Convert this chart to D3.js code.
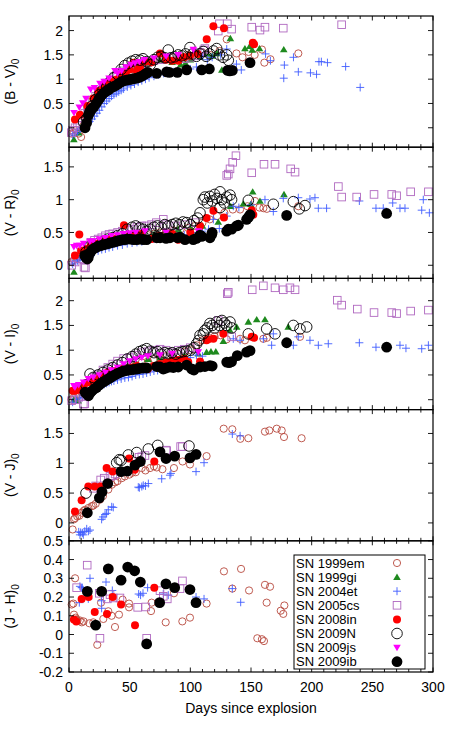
<!DOCTYPE html>
<html><head><meta charset="utf-8">
<script src="https://cdn.jsdelivr.net/npm/d3@7"></script>
<style>body{margin:0;background:#fff}svg{display:block}text{font-family:"Liberation Sans",Arial,sans-serif}</style>
</head><body><svg id="c" width="458" height="732"></svg>
<script>
// ---------- data (day since explosion, colour index) ----------
const xTicks = [0,50,100,150,200,250,300];
const seriesNames = ["SN 1999em","SN 1999gi","SN 2004et","SN 2005cs","SN 2008in","SN 2009N","SN 2009js","SN 2009ib"];

// (B - V)0
const em_BV = [[2,-0.12],[4,-0.1],[6,-0.05],[8,-0.12],[10,-0.19],[12,0.05],[14,0.15],[16,0.3],[18,0.42],[20,0.52],[23,0.62],[26,0.72],[29,0.8],[32,0.87],[35,0.93],[38,0.98],[42,1.05],[46,1.1],[50,1.15],[54,1.2],[58,1.25],[62,1.3],[66,1.33],[70,1.37],[75,1.4],[80,1.42],[86,1.45],[92,1.47],[98,1.5],[104,1.52],[110,1.55],[116,1.5],[124,1.58],[130,1.82],[138,1.53],[143,1.45],[148,1.56],[153,1.5],[159,1.61],[161,1.34],[166,1.41],[189,1.53]];
const gi_BV = [[4,-0.24],[8,-0.1],[12,0.1],[20,0.45],[28,0.75],[35,0.9],[45,1.1],[55,1.25],[65,1.32],[75,1.4],[85,1.35],[92,1.3],[96,1.33],[100,1.4],[108,1.45],[114,1.52],[118,1.48],[122,1.53],[126,1.19],[133,1.84],[145,1.63],[149,1.68],[151,1.6],[157,1.63],[177,1.61]];
const et_BV = [[3,-0.15],[5,-0.12],[7,-0.08],[9,-0.03],[11,0.0],[13,0.03],[15,0.08],[17,0.13],[19,0.18],[21,0.24],[23,0.3],[25,0.36],[27,0.43],[29,0.5],[31,0.55],[33,0.6],[35,0.65],[37,0.68],[39,0.71],[41,0.74],[43,0.77],[45,0.8],[48,0.84],[51,0.87],[54,0.9],[57,0.94],[60,0.97],[63,1.0],[66,1.03],[70,1.06],[74,1.09],[78,1.12],[82,1.13],[86,1.15],[90,1.17],[95,1.19],[100,1.21],[105,1.25],[110,1.48],[114,1.4],[118,1.45],[125,1.5],[130,1.62],[138,1.31],[142,1.19],[162,1.52],[166,1.38],[177,1.02],[177.5,1.29],[185,1.45],[189,1.15],[199,1.13],[204,1.1],[206,1.36],[208,1.36],[213,1.34],[228,1.26],[240,0.83]];
const cs_BV = [[2,-0.1],[3,-0.05],[5,0.0],[7,0.05],[9,0.1],[11,0.2],[13,0.3],[15,0.42],[17,0.52],[19,0.57],[22,0.65],[25,0.75],[28,0.85],[31,0.92],[34,0.98],[37,1.05],[40,1.1],[44,1.17],[48,1.22],[52,1.27],[56,1.3],[60,1.32],[65,1.35],[70,1.38],[75,1.4],[80,1.43],[85,1.45],[90,1.43],[95,1.42],[100,1.45],[105,1.48],[108,1.55],[111,1.6],[112,1.63],[123,1.99],[124,2.14],[130.5,2.14],[134,2.03],[150.6,2.07],[157.4,2.01],[161.5,2.07],[176.6,2.05],[224.7,2.12]];
const in_BV = [[4.9,0.17],[9,0.27],[15.1,0.45],[20,0.6],[24,0.75],[28.3,0.86],[31,0.9],[34,0.93],[38,0.98],[40,1.0],[44,1.1],[47,1.15],[50,1.2],[53,1.34],[56,1.17],[57,1.22],[58.5,1.24],[62.6,1.36],[68,1.35],[75,1.53],[80,1.4],[85,1.38],[90,1.38],[95,1.45],[99.7,1.48],[106,1.52],[113.5,1.82],[119,2.09],[127.7,2.05],[151.5,1.75],[152.5,1.72]];
const N_BV = [[12,0.12],[14.6,0.19],[17,0.32],[19,0.45],[22,0.58],[25,0.68],[28,0.78],[31,0.86],[34,0.95],[37,1.03],[40,1.1],[43,1.2],[46,1.28],[48.9,1.33],[52,1.37],[55,1.4],[58.5,1.39],[61,1.42],[64,1.36],[67,1.3],[70,1.4],[73,1.45],[76,1.47],[79,1.44],[81.8,1.6],[84,1.44],[87,1.46],[90,1.5],[93,1.48],[96,1.52],[99.7,1.65],[102,1.52],[105,1.47],[108,1.52],[110.7,1.57],[113,1.47],[116,1.52],[119,1.58],[121.7,1.63],[124,1.5],[127,1.45],[130,1.5],[131.3,1.39]];
const js_BV = [[4.1,0.31],[8.5,0.42],[11.3,0.51],[14,0.6],[17.9,0.79],[21,0.82],[25.5,0.91],[29,0.95],[33,1.02],[37.9,1.17],[40,1.12],[43.4,1.17],[47,1.25],[51,1.3],[54.4,1.33],[58,1.36],[62,1.4],[70,1.43],[80,1.47],[90,1.5],[102.5,1.61]];
const ib_BV = [[13.2,0.0],[14.5,0.1],[16,0.26],[17.5,0.35],[19,0.4],[20.5,0.43],[22.3,0.5],[24.2,0.57],[25.5,0.62],[26.9,0.67],[28.5,0.71],[30,0.74],[31.5,0.77],[33,0.79],[35.2,0.83],[37,0.85],[39.3,0.88],[41.5,0.92],[43.4,0.95],[45.5,0.97],[47.5,0.98],[49.5,0.99],[51.6,1.0],[53.5,1.01],[55.8,1.02],[58,1.04],[59.9,1.06],[62,1.09],[63.5,1.12],[65,1.14],[72.3,1.12],[80.5,1.15],[82.7,1.14],[89.3,1.14],[97,1.19],[109.4,1.19],[115.7,1.21],[130.8,1.18],[132.5,1.17],[134.6,1.18],[149.2,1.34]];

// (V - R)0
const em_VR = [[2,0.05],[4,0.08],[6,0.1],[8,0.13],[10,0.15],[13,0.18],[16,0.2],[20,0.24],[25,0.28],[30,0.31],[35,0.34],[40,0.36],[45,0.38],[50,0.4],[55,0.42],[60,0.44],[65,0.46],[70,0.48],[75,0.5],[80,0.51],[86,0.53],[92,0.55],[98,0.57],[104,0.6],[110,0.65],[116,0.7],[122,0.75],[128,0.8],[135,0.85],[141,0.85],[147,0.9],[153.3,0.98],[157,0.88],[160.2,0.87],[163,0.86],[189,0.9]];
const gi_VR = [[4.1,-0.1],[10,0.15],[20,0.25],[30,0.3],[40,0.35],[50,0.4],[60,0.43],[70,0.47],[80,0.5],[90,0.55],[100,0.58],[110,0.6],[123,0.66],[133.3,0.9],[143.7,0.94],[149.7,0.93],[151.4,1.12],[157.4,0.98],[177.2,1.08]];
const et_VR = [[3,0.02],[5,0.05],[7,0.07],[9,0.09],[11,0.12],[13,0.14],[15,0.15],[17,0.17],[19,0.18],[21,0.2],[24,0.22],[27,0.24],[30,0.25],[33,0.27],[36,0.28],[40,0.3],[44,0.31],[48,0.33],[52,0.34],[56,0.35],[60,0.36],[65,0.38],[70,0.4],[75,0.41],[80,0.42],[85,0.44],[90,0.45],[95,0.46],[100,0.47],[105,0.5],[110,0.52],[115,0.55],[119,0.7],[123.9,0.56],[130,0.75],[135.4,0.9],[140,0.88],[150,0.92],[161.5,1.0],[168.4,0.82],[176.6,1.02],[189,1.03],[198.6,1.01],[202.7,1.03],[205.5,0.87],[212.3,0.87],[239.3,0.98],[253,0.87],[259,0.87],[266.8,0.95],[272.8,0.87],[276.9,0.87],[290.7,0.84],[292,1.0],[297,0.8]];
const cs_VR = [[2.2,0.0],[5,0.05],[8,0.1],[10,0.2],[12.4,-0.03],[13.5,-0.04],[15,0.3],[18,0.35],[21,0.38],[24,0.4],[27,0.42],[30,0.45],[33,0.47],[36,0.48],[40,0.5],[44,0.52],[48,0.53],[52,0.55],[56,0.58],[60,0.6],[64,0.6],[68,0.62],[72,0.65],[77.7,0.7],[80,0.62],[88,0.6],[96,0.62],[104,0.65],[130,1.37],[131.3,1.39],[132.7,1.47],[134.9,1.57],[137.6,1.67],[150.6,1.41],[160.7,1.54],[169.8,1.54],[182.7,1.47],[186.3,1.42],[222,1.2],[224.7,1.04],[237.1,1.04],[251.4,1.08],[266,1.08],[270,1.06],[281.6,1.12],[296.2,1.12]];
const in_VR = [[4.9,0.15],[8.5,0.47],[10,0.22],[14,0.25],[18,0.3],[22,0.33],[26,0.35],[30,0.37],[35,0.4],[40,0.42],[45.3,0.61],[50,0.45],[55,0.47],[60,0.48],[68.1,0.4],[75,0.45],[85,0.48],[90,0.39],[100,0.5],[108,0.6],[113.4,0.72],[119,0.83],[127.7,0.73],[150.6,0.84],[151.9,0.77]];
const N_VR = [[14,0.2],[17,0.28],[20,0.3],[24,0.33],[28,0.36],[32,0.4],[36,0.42],[40,0.45],[44,0.48],[48,0.55],[52,0.58],[55,0.6],[58,0.57],[61,0.55],[64,0.52],[67,0.55],[70,0.58],[73,0.6],[76,0.58],[79,0.62],[82,0.6],[85,0.62],[88,0.64],[91,0.62],[94,0.66],[97,0.65],[100,0.62],[103,0.68],[106,0.72],[108,0.8],[110.7,1.0],[112,1.04],[114,0.95],[116,1.05],[118,0.98],[120,1.08],[122,1.02],[124.5,1.12],[126,1.0],[124.5,0.88],[128,0.95],[130,1.04],[132.7,1.07],[134,1.0],[147.8,0.99],[168.4,0.93],[184.9,0.97],[189.8,0.86],[194.5,0.91]];
const js_VR = [[4,0.28],[6.3,0.3],[9,0.3],[12,0.33],[17.3,0.36],[20,0.37],[25,0.4],[30,0.42],[35,0.45],[40,0.46],[45,0.48],[50,0.49],[55,0.5],[62.6,0.52],[80,0.5],[106.6,0.52]];
const ib_VR = [[13,0.15],[14,0.12],[15.1,0.095],[15.9,0.12],[17,0.18],[18,0.21],[20,0.25],[22,0.27],[24,0.29],[26,0.3],[28,0.31],[30,0.32],[32,0.33],[33.8,0.34],[36,0.35],[38,0.36],[40,0.37],[42,0.38],[44,0.39],[46,0.39],[48,0.4],[50.3,0.4],[53,0.39],[55.8,0.39],[58,0.4],[61,0.39],[64,0.39],[72.3,0.42],[75,0.42],[80,0.41],[83.2,0.42],[89.3,0.42],[91.5,0.43],[95.6,0.39],[102.4,0.39],[105,0.41],[108,0.46],[109.4,0.44],[116.2,0.42],[117.6,0.47],[118,0.5],[130,0.52],[131.3,0.55],[134.1,0.55],[138.2,0.6],[139.6,0.61],[146.4,0.7],[147.8,0.73],[149.2,0.77],[179.4,0.76],[261.8,0.79]];

// (V - I)0
const em_VI = [[2,0.0],[4,0.05],[6,0.08],[8,0.1],[10,0.15],[13,0.2],[16,0.25],[20,0.3],[24,0.35],[28,0.4],[32,0.45],[36,0.5],[40,0.55],[45,0.6],[50,0.65],[55,0.7],[60,0.75],[65,0.78],[70,0.82],[75,0.85],[80,0.88],[85,0.9],[90,0.93],[95,0.97],[100,1.0],[105,1.1],[110,1.2],[115,1.25],[120,1.28],[125,1.3],[130,1.22],[141,1.23],[145,1.2],[160.2,1.23],[163,1.25],[190.4,1.27]];
const gi_VI = [[4,0.0],[7.7,-0.02],[15,0.2],[25,0.4],[35,0.55],[45,0.65],[55,0.75],[65,0.82],[75,0.85],[85,0.88],[95,0.9],[106.6,0.93],[113.4,0.96],[117,0.97],[121,0.97],[127.2,1.18],[132.7,1.4],[138.2,1.47],[147.8,1.57],[154.7,1.62],[161.5,1.62],[180.7,1.47]];
const et_VI = [[3,-0.05],[6,0.0],[9,0.03],[11,0.05],[13,0.08],[15,0.12],[17,0.15],[19,0.18],[21,0.2],[23,0.24],[25,0.27],[27,0.29],[29,0.31],[31,0.33],[33,0.35],[35,0.37],[37,0.38],[40,0.4],[43,0.42],[46,0.44],[49,0.45],[52,0.47],[55,0.5],[58,0.51],[61,0.52],[64,0.54],[67,0.56],[70,0.58],[73,0.59],[76,0.6],[80,0.65],[85,0.72],[90,0.8],[95,0.82],[100,0.85],[105,0.9],[110,0.88],[135.4,1.23],[141,1.2],[160.2,1.23],[167,1.1],[168.4,1.33],[184.9,1.1],[189,1.27],[198.6,1.2],[205.5,1.1],[213.7,1.13],[239.3,1.15],[253,1.06],[272.8,1.1],[277.7,1.04],[290.7,1.03],[296.2,1.1]];
const cs_VI = [[2.2,-0.02],[5,0.0],[8,0.05],[11.8,-0.09],[13,-0.08],[12,0.2],[15,0.3],[18,0.38],[21,0.45],[24,0.5],[28,0.6],[32,0.65],[36,0.72],[40,0.78],[45,0.83],[50,0.85],[55,0.9],[60,0.95],[65,0.97],[70,1.0],[75,1.02],[80,1.0],[85,0.95],[90,1.0],[95,1.02],[100,1.05],[123,1.6],[130.5,2.14],[131.3,2.17],[134.1,1.27],[151,2.22],[160.2,2.3],[169.8,2.26],[176.6,2.22],[182.1,2.26],[186.3,2.22],[221.1,2.01],[224.7,1.91],[237.6,1.83],[251.4,1.76],[266,1.76],[270,1.74],[281.6,1.79],[296.2,1.81]];
const in_VI = [[3,0.18],[4.9,0.18],[8,0.2],[12,0.28],[16,0.35],[20,0.4],[24,0.45],[28,0.5],[32,0.55],[36,0.58],[40,0.6],[44,0.62],[48,0.63],[52,0.65],[56,0.68],[60,0.65],[65,0.62],[70,0.68],[75,0.72],[80,0.75],[85,0.78],[90,0.8],[95,0.82],[98.3,0.76],[108,0.77],[113.4,1.2],[114.8,1.22],[119,1.23],[127.2,1.33],[150.6,1.27],[152.5,1.25]];
const N_VI = [[14,0.3],[17.3,0.52],[20,0.45],[24,0.5],[28,0.55],[32,0.6],[36,0.65],[40,0.7],[44,0.75],[48,0.82],[52,0.87],[55,0.92],[58,0.97],[61,1.0],[64,1.03],[67,0.98],[70,0.95],[73,0.97],[76,0.92],[79,0.95],[82,0.93],[85,0.95],[88,0.92],[91,0.95],[94,0.97],[97,0.98],[100,1.0],[103,1.05],[105.2,1.13],[107,1.2],[108,1.3],[110.7,1.33],[112,1.4],[114,1.45],[116.2,1.54],[118,1.5],[120,1.45],[121.7,1.57],[124,1.5],[126,1.6],[128,1.55],[130,1.5],[132.7,1.57],[134,1.45],[147.8,1.33],[162.9,1.43],[169.8,1.33],[184.9,1.5],[190.4,1.43],[195.9,1.47]];
const js_VI = [[4,0.28],[4.9,0.25],[8,0.3],[12,0.35],[16,0.42],[20,0.45],[25,0.5],[30,0.55],[35,0.6],[40,0.65],[45,0.72],[50,0.78],[55,0.82],[60,0.85],[65,0.88],[75,0.9],[85,0.93],[106.6,0.96]];
const ib_VI = [[13.2,0.15],[14.5,0.12],[16,0.08],[17.5,0.14],[19,0.18],[21,0.22],[22.8,0.25],[25,0.3],[27,0.34],[29,0.37],[31,0.4],[33,0.43],[35,0.46],[37,0.49],[39.3,0.52],[41,0.54],[43,0.56],[45,0.58],[47.5,0.59],[50,0.6],[53,0.61],[55.8,0.62],[58,0.63],[61,0.64],[64,0.64],[72.3,0.67],[75,0.66],[77.7,0.62],[80,0.64],[83.2,0.66],[86,0.65],[90,0.66],[97,0.7],[101.1,0.62],[103,0.6],[108,0.66],[112,0.67],[116.2,0.69],[118,0.68],[130,0.76],[132,0.75],[134,0.77],[138.7,0.89],[146.4,0.96],[149.2,0.99],[179.4,1.15],[261.8,1.06]];

// (V - J)0
const em_VJ = [[3,-0.11],[4.1,0.06],[5,0.08],[6.8,0.11],[8.5,0.12],[10.4,0.17],[12,0.2],[13.2,0.22],[16,0.25],[18.7,0.28],[20,0.29],[22,0.32],[25.5,0.39],[28,0.45],[32.4,0.56],[35.2,0.64],[38,0.68],[40,0.7],[43.4,0.75],[46,0.78],[49.7,0.81],[52,0.84],[55,0.85],[59.9,0.92],[63,0.88],[66.8,0.92],[70,0.95],[72.3,0.93],[77,0.9],[86.5,0.92],[93.6,1.03],[99.7,0.98],[113.4,1.12],[127.5,1.58],[134.6,1.57],[141.2,1.41],[147.8,1.42],[161.5,1.53],[165.1,1.55],[171.2,1.58],[175.3,1.55],[177.2,1.44],[191.7,1.42]];
const et_VJ = [[8,-0.15],[9,-0.2],[9.6,-0.16],[11,-0.17],[11.8,-0.2],[13,-0.14],[14.6,-0.1],[16,-0.14],[17.3,-0.12],[26.9,0.06],[28,0.1],[29.7,0.14],[31,0.16],[32.4,0.22],[35.2,0.27],[36.5,0.26],[57.1,0.6],[58,0.59],[60,0.61],[61.2,0.63],[63,0.62],[65.4,0.66],[76.4,0.74],[83.2,0.8],[84,0.83],[104.7,0.86],[111.3,1.01],[134.6,1.49],[141,1.46]];
const cs_VJ = [[20,0.58],[22,0.62],[26.1,0.72],[29,0.75],[33.8,0.78],[36,0.79],[38,0.82],[57.7,1.1],[60,1.11],[62.6,1.13],[80,1.22],[80.5,1.21],[92,1.28],[93.5,1.28]];
const in_VJ = [[4.9,0.19],[10.4,0.38],[15.9,0.61],[21.2,0.61],[26.1,0.61],[31,0.92],[36,0.86],[49.5,1.08],[54.1,0.89],[70.3,1.03]];
const N_VJ = [[14,0.5],[39.3,1.01],[41.5,1.06],[43,1.05],[48.9,1.14],[55.8,1.18],[65.4,1.24],[73.1,1.3],[98.9,1.29]];
const ib_VJ = [[15.1,0.17],[25,0.42],[27.2,0.52],[31.9,0.66],[42.9,0.86],[48.1,0.87],[54.4,0.97],[58.8,1.03],[75,1.19],[80,1.08],[87.1,1.12],[99.7,1.09],[104.7,1.15]];

// (J - H)0
const em_JH = [[2.2,0.16],[3.6,0.165],[4.1,0.106],[5,0.3],[5.5,0.09],[6,0.08],[7,0.075],[9,0.075],[10.5,0.065],[12,0.07],[16.8,0.06],[20,0.065],[23.3,-0.055],[26.4,0.17],[28.3,0.083],[32.4,0.124],[35.1,0.1],[37.9,0.04],[41.2,0.106],[44.2,0.186],[49.5,0.165],[49.5,0.145],[67.6,0.125],[68.1,0.17],[79.7,0.065],[86.5,0.22],[93.4,0.07],[99.7,0.09],[113.4,0.165],[127.7,0.337],[134.6,0.245],[141.8,0.35],[148.4,0.235],[155.2,-0.02],[159,-0.025],[160.7,-0.035],[161.5,0.265],[162.9,0.17],[165.7,0.255],[174.5,0.127],[176.6,0.11],[177.5,0.155]];
const et_JH = [[8.5,0.17],[9,0.257],[10.4,0.25],[11,0.25],[15.9,0.19],[17.3,0.3],[26.9,0.18],[26.9,0.14],[30.5,0.28],[35.7,0.235],[57.4,0.216],[59,0.21],[61,0.22],[64.8,0.25],[77.7,0.216],[81.8,0.21],[104.7,0.2],[111.3,0.19],[134.6,0.245],[141.5,0.172]];
const cs_JH = [[6.3,0.25],[15,0.37],[25,0.22],[25.5,-0.02],[31.6,0.19],[33.8,0.213],[36.5,0.195],[42,0.195],[56.6,0.145],[63.2,0.147],[64,-0.02],[75,0.234],[77.7,0.204],[81,0.19],[91.5,0.245],[93.5,0.286]];
const in_JH = [[4,0.08],[6,0.07],[10.4,0.19],[16.2,0.2],[21.2,0.12],[31.3,0.11],[36,0.2],[42.9,0.16],[54.4,0.05],[70.3,0.25]];
const ib_JH = [[15.1,0.23],[22,0.05],[26.9,0.23],[32.4,0.35],[42.9,0.29],[48.4,0.36],[54.1,0.34],[58.8,0.28],[64,-0.05],[74.7,0.17],[79.9,0.27],[87.1,0.25],[99.7,0.24],[104.7,0.17]];

// tick labels per panel
const ticksBV = [0,0.5,1,1.5,2];
const ticksVR = [0,0.5,1,1.5];
const ticksVI = [0,0.5,1,1.5,2];
const ticksVJ = [0,0.5,1,1.5];
const ticksJH = [-0.2,-0.1,0,0.1,0.2,0.3,0.4,0.5];

// ---------- layout ----------
const svg = d3.select("#c");
const L = 69, R = 433, T = 16, B = 672;
const ph = (B - T) / 5;
const x = d3.scaleLinear().domain([0,300]).range([L,R]);

const panels = [
  {lab:"(B - V)", dom:[-0.4,2.3], ticks:ticksBV, sets:[em_BV,gi_BV,et_BV,cs_BV,in_BV,N_BV,js_BV,ib_BV]},
  {lab:"(V - R)", dom:[-0.2,1.8], ticks:ticksVR, sets:[em_VR,gi_VR,et_VR,cs_VR,in_VR,N_VR,js_VR,ib_VR]},
  {lab:"(V - I)", dom:[-0.2,2.45], ticks:ticksVI, sets:[em_VI,gi_VI,et_VI,cs_VI,in_VI,N_VI,js_VI,ib_VI]},
  {lab:"(V - J)", dom:[-0.3,1.9], ticks:ticksVJ, sets:[em_VJ,[],et_VJ,cs_VJ,in_VJ,N_VJ,[],ib_VJ]},
  {lab:"(J - H)", dom:[-0.2,0.5], ticks:ticksJH, sets:[em_JH,[],et_JH,cs_JH,in_JH,[],[],ib_JH]}
];

// marker styles
const styles = [
  {t:"oc", r:3.6, c:"#b84a3e", w:0.9},
  {t:"tu", c:"#1e8a1e"},
  {t:"plus", c:"#3f5cff", w:0.9},
  {t:"sq", c:"#b068c0", w:0.9},
  {t:"fc", r:4, c:"#ff0000"},
  {t:"oc", r:5.3, c:"#000", w:0.9},
  {t:"td", c:"#ff00ff"},
  {t:"fc", r:5.4, c:"#000"}
];

function drawMarker(g, s, cx, cy) {
  if (s.t === "oc") g.append("circle").attr("cx",cx).attr("cy",cy).attr("r",s.r).attr("fill","none").attr("stroke",s.c).attr("stroke-width",s.w);
  else if (s.t === "fc") g.append("circle").attr("cx",cx).attr("cy",cy).attr("r",s.r).attr("fill",s.c);
  else if (s.t === "sq") g.append("rect").attr("x",cx-3.8).attr("y",cy-3.8).attr("width",7.6).attr("height",7.6).attr("fill","none").attr("stroke",s.c).attr("stroke-width",s.w);
  else if (s.t === "plus") g.append("path").attr("d",`M${cx-4},${cy}H${cx+4}M${cx},${cy-4}V${cy+4}`).attr("stroke",s.c).attr("stroke-width",s.w).attr("fill","none");
  else if (s.t === "tu") g.append("path").attr("d",`M${cx},${cy-3.6}L${cx+3.8},${cy+2.8}L${cx-3.8},${cy+2.8}Z`).attr("fill",s.c);
  else if (s.t === "td") g.append("path").attr("d",`M${cx},${cy+3.6}L${cx+3.8},${cy-2.8}L${cx-3.8},${cy-2.8}Z`).attr("fill",s.c);
}

const xMinor = d3.range(0,301,10);

panels.forEach((p,i) => {
  const top = T + i*ph, bot = top + ph;
  const y = d3.scaleLinear().domain(p.dom).range([bot, top]);
  const g = svg.append("g");
  const pg = g.append("g");
  p.sets.forEach((set,k) => set.forEach(d => drawMarker(pg, styles[k], x(d[0]), y(d[1]))));
  g.append("rect").attr("x",L).attr("y",top).attr("width",R-L).attr("height",ph)
    .attr("fill","none").attr("stroke","#000").attr("stroke-width",1.2);
  xMinor.forEach(v => {
    const len = v % 50 === 0 ? 4.5 : 3;
    g.append("line").attr("x1",x(v)).attr("x2",x(v)).attr("y1",bot).attr("y2",bot-len).attr("stroke","#000").attr("stroke-width",0.9);
    g.append("line").attr("x1",x(v)).attr("x2",x(v)).attr("y1",top).attr("y2",top+len).attr("stroke","#000").attr("stroke-width",0.9);
  });
  p.ticks.forEach(v => {
    const yy = y(v);
    g.append("line").attr("x1",L).attr("x2",L+5).attr("y1",yy).attr("y2",yy).attr("stroke","#000").attr("stroke-width",0.9);
    g.append("line").attr("x1",R).attr("x2",R-5).attr("y1",yy).attr("y2",yy).attr("stroke","#000").attr("stroke-width",0.9);
    g.append("text").attr("x",63).attr("y",yy).attr("dy","0.36em").attr("text-anchor","end")
      .attr("font-size",14).text(String(v));
  });
  const cy = (top+bot)/2;
  const t = g.append("text").attr("transform",`translate(15,${cy}) rotate(-90)`).attr("text-anchor","middle").attr("font-size",14);
  t.append("tspan").text(p.lab);
  t.append("tspan").attr("font-size",10).attr("dy",4).text("0");
});

xTicks.forEach(v => svg.append("text").attr("x",x(v)).attr("y",691.5).attr("text-anchor","middle").attr("font-size",14).text(v));
svg.append("text").attr("x",(L+R)/2).attr("y",712.5).attr("text-anchor","middle").attr("font-size",14).text("Days since explosion");

// legend
const lx = 294, ly = 555, lw = 131, lh = 114, rowH = 14.1;
svg.append("rect").attr("x",lx).attr("y",ly).attr("width",lw).attr("height",lh).attr("fill","#fff").attr("stroke","#000").attr("stroke-width",1);
seriesNames.forEach((n,k) => {
  const yy = ly + 8 + k*rowH;
  svg.append("text").attr("x",lx+2).attr("y",yy).attr("dy","0.35em").attr("font-size",13).text(n);
  drawMarker(svg, styles[k], 397, yy);
});
</script></body></html>
